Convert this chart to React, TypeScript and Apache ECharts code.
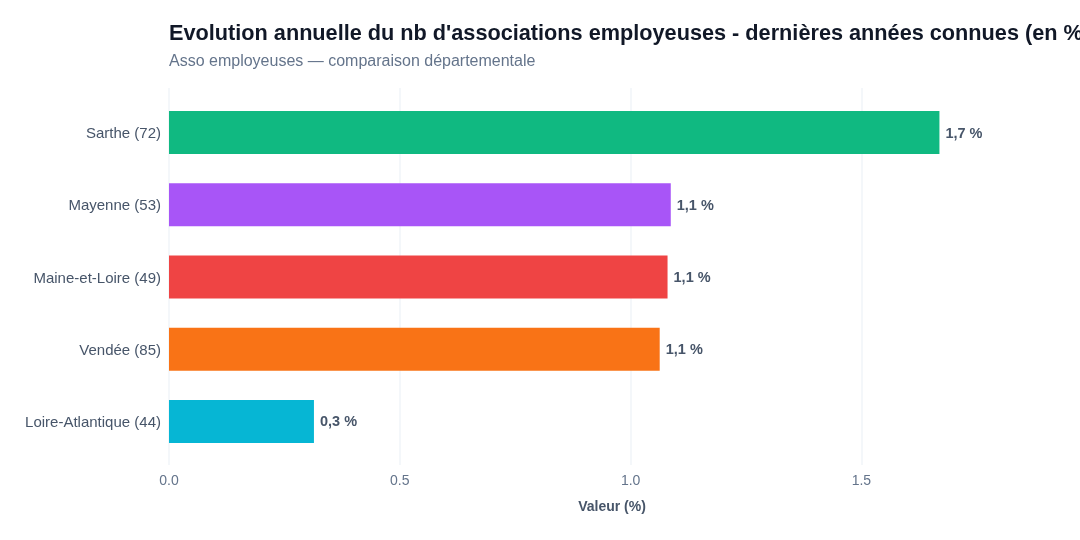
import React, { useEffect, useRef } from "react";
import * as echarts from "echarts";

const categories = ["Sarthe (72)", "Mayenne (53)", "Maine-et-Loire (49)", "Vendée (85)", "Loire-Atlantique (44)"];
const values = [1.669, 1.087, 1.08, 1.063, 0.314];
const colors = ["#10b981", "#a855f7", "#ef4444", "#f97316", "#06b6d4"];
const xTicks = [0, 0.5, 1.0, 1.5];

const titleText = "Evolution annuelle du nb d'associations employeuses - dernières années connues (en %)";
const subtitleText = "Asso employeuses — comparaison départementale";
const FONT = "'Liberation Sans', Arial, sans-serif";

export default function App() {
  const ref = useRef<HTMLDivElement>(null);
  useEffect(() => {
    if (!ref.current) return;
    const chart = echarts.init(ref.current, null, { renderer: "svg" });
    const xMax = Math.max(...values) * 1.15;
    const gridLeft = 169;
    const gridRight = 25;
    const plotW = 1080 - gridLeft - gridRight;
    const lastTick = xTicks[xTicks.length - 1];
    // second grid only draws the vertical grid lines, up to the last tick, on the same scale
    const grid2Right = 1080 - gridLeft - (plotW * lastTick) / xMax;
    chart.setOption({
      animation: false,
      textStyle: { fontFamily: FONT },
      title: {
        text: titleText,
        subtext: subtitleText,
        left: 164,
        top: 16,
        itemGap: 9,
        textStyle: { fontSize: 21.7, fontWeight: "bold", color: "#111827", fontFamily: FONT },
        subtextStyle: { fontSize: 16, color: "#64748b", fontFamily: FONT },
      },
      grid: [
        { left: gridLeft, right: gridRight, top: 96.4, bottom: 82.4, containLabel: false },
        { left: gridLeft, right: grid2Right, top: 88, bottom: 75, containLabel: false },
      ],
      xAxis: [
        {
          type: "value",
          gridIndex: 0,
          min: 0,
          max: xMax,
          interval: 0.5,
          axisLine: { show: false },
          axisTick: { show: false },
          splitLine: { show: false },
          axisLabel: {
            margin: 15,
            fontSize: 14,
            color: "#64748b",
            showMaxLabel: false,
            formatter: (v: number) => (xTicks.some((t) => Math.abs(t - v) < 1e-9) ? v.toFixed(1) : ""),
          },
          name: "Valeur (%)",
          nameLocation: "middle",
          nameGap: 41,
          nameTextStyle: { fontSize: 14, fontWeight: "bold", color: "#475569" },
        },
        {
          type: "value",
          gridIndex: 1,
          min: 0,
          max: lastTick,
          interval: 0.5,
          axisLine: { show: false },
          axisTick: { show: false },
          axisLabel: { show: false },
          splitLine: { show: true, lineStyle: { color: "#f1f5f9", width: 1.5 } },
        },
      ],
      yAxis: [
        {
          type: "category",
          gridIndex: 0,
          data: categories,
          inverse: true,
          axisLine: { show: false },
          axisTick: { show: false },
          axisLabel: { margin: 8, fontSize: 15, color: "#475569" },
        },
        {
          type: "category",
          gridIndex: 1,
          data: categories,
          inverse: true,
          show: false,
        },
      ],
      series: [
        {
          type: "bar",
          xAxisIndex: 0,
          yAxisIndex: 0,
          barWidth: 43,
          data: values.map((v, i) => ({ value: v, itemStyle: { color: colors[i] } })),
          label: {
            show: true,
            position: "right",
            distance: 6,
            fontSize: 14.5,
            fontWeight: "bold",
            color: "#475569",
            formatter: (p: any) => p.value.toFixed(1).replace(".", ",") + " %",
          },
          z: 3,
        },
      ],
    });
    return () => chart.dispose();
  }, []);
  return <div ref={ref} style={{ position: "fixed", left: 0, top: 0, width: 1080, height: 540 }} />;
}
